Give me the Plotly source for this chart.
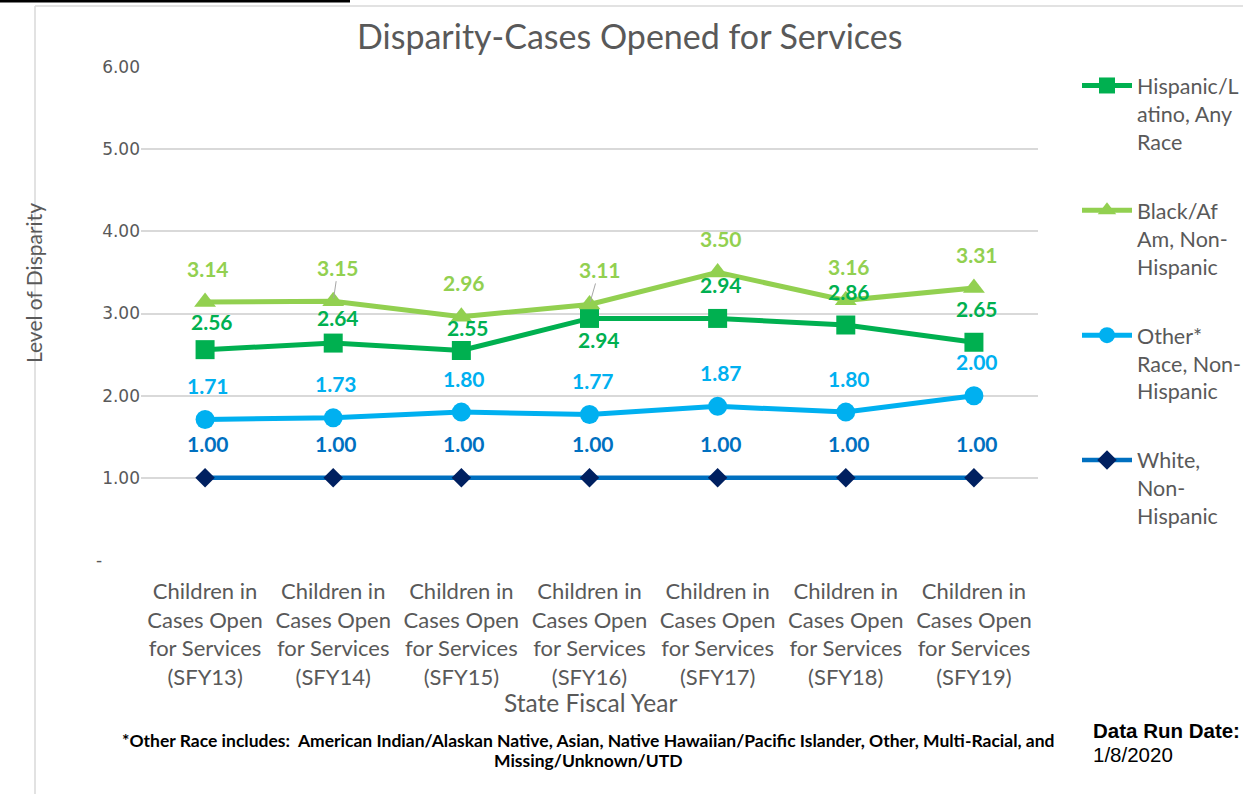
import plotly.graph_objects as go

# ---- data -------------------------------------------------------------
categories = [
    "Children in<br>Cases Open<br>for Services<br>(SFY13)",
    "Children in<br>Cases Open<br>for Services<br>(SFY14)",
    "Children in<br>Cases Open<br>for Services<br>(SFY15)",
    "Children in<br>Cases Open<br>for Services<br>(SFY16)",
    "Children in<br>Cases Open<br>for Services<br>(SFY17)",
    "Children in<br>Cases Open<br>for Services<br>(SFY18)",
    "Children in<br>Cases Open<br>for Services<br>(SFY19)",
]
hispanic = [2.56, 2.64, 2.55, 2.94, 2.94, 2.86, 2.65]
black = [3.14, 3.15, 2.96, 3.11, 3.50, 3.16, 3.31]
other = [1.71, 1.73, 1.80, 1.77, 1.87, 1.80, 2.00]
white = [1.00, 1.00, 1.00, 1.00, 1.00, 1.00, 1.00]

y_tick_vals = [0, 1, 2, 3, 4, 5, 6]
y_tick_text = ["-" + "\u00a0" * 7, "1.00", "2.00", "3.00", "4.00", "5.00", "6.00"]

# ---- canvas geometry (pixels) ------------------------------------------
W, H = 1243, 794
PL, PR, PT, PB = 141, 1038, 67, 560   # plot area edges


def px_x(x):
    return (x - PL) / (PR - PL)


def px_y(y):
    return (PB - y) / (PB - PT)


GREY_TEXT = "#595959"
LABEL_FONT = "Lato"

series = [
    dict(name="Hispanic/L<br>atino, Any<br>Race", y=hispanic, line="#00B050",
         marker=dict(symbol="square", size=19, color="#00B050"), label="#00B050", width=5),
    dict(name="Black/Af<br>Am, Non-<br>Hispanic", y=black, line="#92D050",
         marker=dict(symbol="triangle-up", size=19, color="#92D050"), label="#92D050", width=5),
    dict(name="Other*<br>Race, Non-<br>Hispanic", y=other, line="#00B0F0",
         marker=dict(symbol="circle", size=19, color="#00B0F0"), label="#00B0F0", width=5),
    dict(name="White,<br>Non-<br>Hispanic", y=white, line="#0070C0",
         marker=dict(symbol="diamond", size=15, color="#002060"), label="#0070C0", width=4.5),
]

fig = go.Figure()
for i, s in enumerate(series):
    fig.add_trace(go.Scatter(
        x=categories, y=s["y"], name=s["name"], mode="lines+markers",
        line=dict(color=s["line"], width=s["width"]),
        marker=s["marker"], legendgroup=f"g{i}", cliponaxis=False,
    ))

# data-label placement: default offset above each point, with a few overrides
default_offset = (3, -34)
offset_override = {
    (0, 0): (7, -28), (0, 1): (5, -26), (0, 2): (7, -23), (0, 3): (9, 21),
    (1, 1): (5, -34), (1, 3): (10, -35),
}
leader_lines = {(1, 1), (1, 3)}

annotations = []
for si, s in enumerate(series):
    for ci, v in enumerate(s["y"]):
        dx, dy = offset_override.get((si, ci), default_offset)
        common = dict(x=categories[ci], y=v, xref="x", yref="y", text=f"{v:.2f}",
                      font=dict(family=LABEL_FONT, size=21, color=s["label"], weight="bold"))
        if (si, ci) in leader_lines:
            annotations.append(dict(**common, showarrow=True, ax=dx, ay=dy, arrowhead=0,
                                    arrowwidth=1, arrowcolor="#A6A6A6", standoff=3))
        else:
            annotations.append(dict(**common, showarrow=False, xshift=dx, yshift=-dy,
                                    xanchor="center", yanchor="middle"))


def page_text(text, x, y, size, family=LABEL_FONT, color=GREY_TEXT, **kw):
    kw.setdefault("xanchor", "center")
    return dict(text=text, x=px_x(x), y=px_y(y), xref="paper", yref="paper",
                showarrow=False, yanchor="middle",
                font=dict(family=family, size=size, color=color,
                          weight=kw.pop("weight", "normal")), **kw)


# title, axis titles and notes
annotations += [
    page_text("Disparity-Cases Opened for Services", 629, 35, 34),
    page_text("State Fiscal Year", 590, 702, 24.5),
    page_text("Level of Disparity", 33, 283, 21, textangle=-90),
    page_text("*Other Race includes:  American Indian/Alaskan Native, Asian, Native Hawaiian/Pacific Islander, Other, Multi-Racial, and",
              588, 740, 17.5, color="#000000", weight="bold"),
    page_text("Missing/Unknown/UTD", 588, 760, 17.5, color="#000000", weight="bold"),
    page_text("Data Run Date:", 1091, 731, 20.5, family="Liberation Sans",
              color="#000000", weight="bold", xanchor="left"),
    page_text("1/8/2020", 1091, 754, 20.5, family="Liberation Sans",
              color="#000000", xanchor="left"),
]

shapes = [
    # outer chart frame
    dict(type="line", xref="paper", yref="paper", x0=px_x(35), x1=px_x(35),
         y0=px_y(6), y1=px_y(794), line=dict(color="#D9D9D9", width=1.5)),
    dict(type="line", xref="paper", yref="paper", x0=px_x(35), x1=px_x(1243),
         y0=px_y(6), y1=px_y(6), line=dict(color="#D9D9D9", width=1.5)),
    # heavy rule at the top-left of the page
    dict(type="line", xref="paper", yref="paper", x0=px_x(0), x1=px_x(350),
         y0=px_y(1), y1=px_y(1), line=dict(color="#000000", width=3)),
]

fig.update_layout(
    width=W, height=H,
    margin=dict(l=PL, r=W - PR, t=PT, b=H - PB, pad=0, autoexpand=False),
    paper_bgcolor="white", plot_bgcolor="white",
    showlegend=True,
    legend=dict(x=px_x(1077), y=px_y(65), xanchor="left", yanchor="top",
                valign="top", tracegroupgap=38, traceorder="grouped",
                font=dict(family=LABEL_FONT, size=21.5, color=GREY_TEXT),
                itemwidth=50, bgcolor="rgba(0,0,0,0)", maxheight=700),
    annotations=annotations,
    shapes=shapes,
    xaxis=dict(range=[-0.5, 6.5], showgrid=False, showline=False, zeroline=False,
               ticks="", tickfont=dict(family=LABEL_FONT, size=22, color=GREY_TEXT),
               ticklabelstandoff=16),
    yaxis=dict(range=[0, 6], tickvals=y_tick_vals, ticktext=y_tick_text,
               showgrid=True, gridcolor="#D9D9D9", gridwidth=1.5, zeroline=False,
               showline=False, ticks="",
               tickfont=dict(family="DejaVu Sans", size=17, color=GREY_TEXT)),
)

fig.write_html("out.html")
